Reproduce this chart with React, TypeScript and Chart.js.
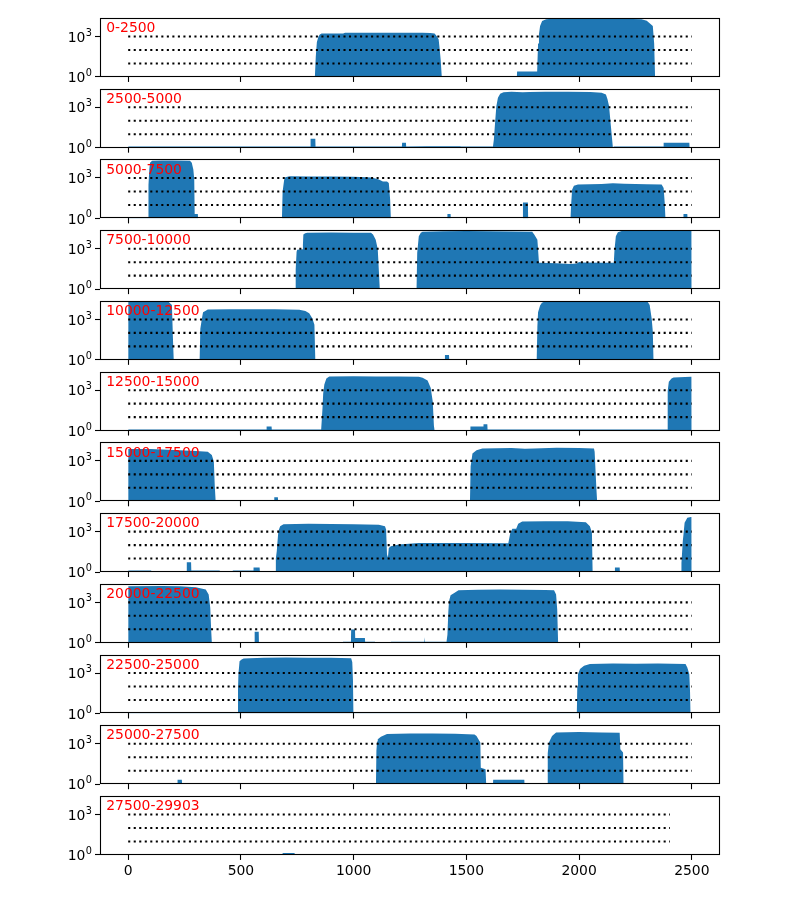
import React, { useEffect, useRef } from "react";
import { Chart, registerables } from "chart.js";

Chart.register(...registerables);
Chart.defaults.font.family = "'DejaVu Sans', sans-serif";

// ---------- data ----------
const RANGE_LABELS = [
  "0-2500", "2500-5000", "5000-7500", "7500-10000", "10000-12500", "12500-15000",
  "15000-17500", "17500-20000", "20000-22500", "22500-25000", "25000-27500", "27500-29903",
];
const X_TICKS = [0, 500, 1000, 1500, 2000, 2500];
const Y_TICKS = [1, 1000];
const Y_TICK_BASES = ["10", "10"];
const Y_TICK_EXPONENTS = ["0", "3"];
const REF_LEVELS = [10, 100, 1000];
const REF_END = [2500, 2500, 2500, 2500, 2500, 2500, 2500, 2500, 2500, 2500, 2500, 2403];

// coverage per panel: [position, depth]
const cov0 = [
  [0, 0], [828, 0], [832, 30], [837, 400], [844, 1000], [850, 1400], [858, 1650], [900, 1700], [953, 1650],
  [962, 1950], [1100, 1900], [1200, 1950], [1306, 1900], [1340, 1800], [1359, 1700], [1368, 1100], [1377, 630],
  [1382, 100], [1386, 20], [1391, 0], [1724, 0], [1725, 2.5], [1814, 2.5], [1818, 300], [1822, 1500],
  [1827, 6000], [1836, 14500], [1854, 19000], [1880, 20500], [2000, 20900], [2100, 20500], [2200, 20500],
  [2277, 19000], [2300, 15000], [2313, 9500], [2327, 6000], [2333, 300], [2337, 0], [2500, 0],
];
const cov1 = [
  [0, 1.2], [808, 1.2], [809, 4.6], [830, 4.6], [831, 1.2], [1214, 1.2], [1215, 2.3], [1232, 2.3], [1233, 1.2],
  [1324, 1.3], [1474, 1.3], [1475, 1.2], [1618, 1.2], [1622, 4], [1628, 100], [1633, 1175], [1640, 5000],
  [1650, 10000], [1665, 13000], [1700, 14000], [1750, 13000], [1780, 13500], [1850, 14000], [1950, 14000],
  [2050, 13500], [2100, 12000], [2119, 9000], [2126, 4000], [2133, 1175], [2141, 40], [2150, 0], [2154, 1.2],
  [2374, 1.2], [2375, 2.3], [2489, 2.3], [2490, 0], [2500, 0],
];
const cov2 = [
  [0, 1.2], [88, 1.2], [90, 300], [94, 5000], [97, 13400], [106, 19000], [150, 20000], [200, 19500],
  [274, 19000], [282, 13400], [289, 4300], [293, 800], [295, 2.1], [309, 2.1], [310, 0], [682, 0], [685, 100],
  [692, 760], [697, 1120], [715, 1350], [724, 1350], [800, 1300], [900, 1300], [1000, 1250], [1080, 1100],
  [1112, 760], [1130, 560], [1148, 560], [1156, 420], [1162, 24], [1165, 0], [1415, 0], [1416, 2.1],
  [1430, 2.1], [1431, 0], [1750, 0], [1751, 15], [1773, 15], [1774, 0], [1962, 0], [1965, 13], [1969, 135],
  [1977, 270], [1995, 330], [2100, 360], [2150, 400], [2200, 380], [2300, 350], [2366, 330], [2375, 180],
  [2380, 13], [2383, 0], [2462, 0], [2463, 2.1], [2480, 2.1], [2481, 0], [2500, 0],
];
const cov3 = [
  [0, 0], [740, 0], [743, 30], [747, 600], [750, 850], [773, 900], [775, 2000], [777, 11200], [785, 14000],
  [794, 15500], [900, 16000], [1000, 15500], [1077, 15000], [1086, 11200], [1098, 4700], [1107, 900],
  [1112, 20], [1116, 0], [1279, 0], [1282, 500], [1289, 8300], [1298, 15000], [1306, 18500], [1400, 20000],
  [1500, 20500], [1600, 20000], [1700, 19000], [1792, 18000], [1801, 11200], [1815, 4700], [1818, 900],
  [1822, 89], [1828, 89], [1900, 85], [1960, 72], [1990, 80], [2000, 105], [2013, 95], [2100, 90], [2154, 90],
  [2157, 800], [2163, 8300], [2172, 17000], [2189, 21000], [2300, 21300], [2499, 21300], [2499.5, 0],
];
const cov4 = [
  [0, 21000], [100, 21300], [180, 20000], [194, 12000], [199, 23], [202, 0], [317, 0], [320, 200], [327, 1200],
  [332, 3400], [344, 4500], [353, 5400], [450, 5700], [550, 5600], [650, 5600], [759, 5300], [786, 4300],
  [803, 2900], [817, 1200], [826, 400], [830, 0], [1404, 0], [1405, 2.3], [1423, 2.3], [1424, 0], [1812, 0],
  [1815, 300], [1818, 3400], [1827, 11000], [1835, 17000], [1845, 21000], [2000, 21300], [2200, 21300],
  [2304, 21000], [2313, 12000], [2322, 1200], [2327, 120], [2330, 0], [2500, 0],
];
const cov5 = [
  [0, 1.2], [613, 1.2], [614, 2], [636, 2], [637, 1.2], [856, 1.2], [862, 50], [865, 600], [870, 2600],
  [879, 7400], [892, 10500], [1000, 11000], [1100, 10500], [1200, 10500], [1289, 10000], [1306, 8300],
  [1328, 5200], [1342, 1450], [1351, 140], [1356, 2.4], [1359, 0], [1517, 0], [1518, 2], [1575, 2],
  [1576, 2.9], [1593, 2.9], [1594, 1.2], [2391, 1.2], [2393, 850], [2398, 4200], [2410, 7500], [2419, 8900],
  [2496, 10000], [2499, 10000], [2499.5, 0],
];
const cov6 = [
  [0, 7600], [100, 7800], [230, 6300], [300, 5500], [353, 4800], [371, 2700], [380, 850], [384, 15], [388, 0],
  [647, 0], [648, 2], [664, 2], [665, 0], [1516, 0], [1519, 400], [1522, 850], [1527, 3550], [1545, 6300],
  [1571, 8500], [1700, 9000], [1760, 8000], [1800, 8500], [1900, 9300], [2000, 9000], [2066, 8500],
  [2069, 4800], [2076, 15], [2080, 0], [2453, 0], [2454, 1.2], [2496, 1.2], [2497, 0], [2500, 0],
];
const cov7 = [
  [0, 1.3], [102, 1.3], [103, 0], [259, 0], [260, 5.3], [279, 5.3], [280, 1.3], [406, 1.3], [407, 0], [463, 0],
  [464, 1.3], [555, 1.3], [556, 2.2], [583, 2.2], [584, 1.2], [609, 1.2], [610, 0], [652, 0], [655, 10],
  [659, 35], [666, 1070], [674, 2500], [689, 3600], [800, 3800], [900, 3700], [1000, 3600], [1112, 3300],
  [1139, 2500], [1144, 1450], [1148, 20], [1152, 12], [1156, 62], [1165, 82], [1201, 110], [1289, 145],
  [1500, 140], [1686, 138], [1695, 810], [1704, 1600], [1721, 1600], [1730, 3800], [1748, 5600], [1850, 6000],
  [1950, 5800], [2030, 5000], [2048, 2500], [2057, 810], [2060, 0], [2158, 0], [2159, 2.2], [2180, 2.2],
  [2181, 0], [2453, 0], [2454, 4.7], [2460, 200], [2463, 600], [2468, 4500], [2480, 10700], [2496, 12000],
  [2499, 12000], [2499.5, 0],
];
const cov8 = [
  [0, 15800], [150, 16500], [230, 15800], [300, 13500], [344, 9100], [357, 3800], [364, 400], [368, 10],
  [371, 0], [560, 0], [561, 6.6], [579, 6.6], [580, 0], [952, 0], [953, 1.2], [988, 1.2], [989, 9.8],
  [1006, 9.8], [1007, 2.3], [1050, 2.3], [1051, 1.2], [1095, 1.2], [1096, 0], [1164, 0], [1165, 1.2],
  [1312, 1.2], [1313, 2.6], [1315, 1.2], [1412, 1.2], [1416, 4], [1420, 200], [1423, 1200], [1430, 3400],
  [1448, 5100], [1465, 8000], [1550, 8500], [1650, 8900], [1750, 8700], [1850, 8300], [1889, 7900],
  [1898, 3800], [1903, 300], [1907, 0], [2500, 0],
];
const cov9 = [
  [0, 1.2], [486, 1.2], [487, 50], [489, 810], [494, 7400], [503, 10000], [512, 12000], [600, 14000],
  [700, 14500], [800, 14000], [900, 13500], [989, 12500], [994, 6300], [997, 300], [999, 0], [1000, 1.2],
  [1990, 1.2], [1992, 100], [1995, 810], [2004, 2000], [2022, 3500], [2048, 4800], [2150, 5200], [2250, 5000],
  [2350, 5200], [2472, 4700], [2480, 2600], [2489, 810], [2492, 50], [2494, 0], [2500, 0],
];
const cov10 = [
  [0, 0], [218, 0], [219, 2.1], [238, 2.1], [239, 0], [1099, 0], [1101, 300], [1104, 1500], [1107, 2200],
  [1121, 3400], [1148, 5400], [1250, 5800], [1350, 5700], [1450, 5600], [1536, 5000], [1545, 3800],
  [1562, 1230], [1564, 17], [1585, 13], [1588, 1], [1589, 0], [1618, 0], [1619, 2.1], [1757, 2.1], [1758, 0],
  [1858, 0], [1861, 200], [1866, 1230], [1880, 3800], [1898, 6800], [2000, 7500], [2100, 7000], [2180, 6500],
  [2183, 400], [2195, 230], [2197, 0], [2500, 0],
];
const cov11 = [
  [0, 0], [684, 0], [685, 1.4], [738, 1.4], [739, 0], [2403, 0],
];
const COVERAGE = [cov0, cov1, cov2, cov3, cov4, cov5, cov6, cov7, cov8, cov9, cov10, cov11];

// ---------- layout ----------
const FIG_TOP = 18;
const PANEL_STEP = 70.727;
const AXES_H = 58.94;
const AX_LEFT = 100;
const AX_RIGHT = 720;
const X_MIN = -125;
const X_MAX = 2625;
const Y_MIN = 1;
const Y_MAX = 23770;
const FONT = { family: "'DejaVu Sans', sans-serif", size: 13.9 };

function Panel({ index }: { index: number }) {
  const ref = useRef<HTMLCanvasElement>(null);
  const isLast = index === COVERAGE.length - 1;
  const top = FIG_TOP + index * PANEL_STEP;
  const canvasTop = Math.floor(top) - 14;
  const padTop = top - canvasTop;
  const bottomSpace = isLast ? 40 : 14;
  const height = Math.ceil(padTop + AXES_H + bottomSpace);
  const xAxisH = height - padTop - AXES_H;

  useEffect(() => {
    if (!ref.current) return;
    const label = RANGE_LABELS[index];
    const framePlugin = {
      id: "frame" + index,
      afterDraw(chart: any) {
        const { ctx, chartArea } = chart;
        const yScale = chart.scales.y;
        const l = Math.round(chartArea.left) + 0.5;
        const t = Math.round(chartArea.top) + 0.5;
        const r = Math.round(chartArea.right) - 0.5;
        const b = Math.round(chartArea.bottom) - 0.5;
        ctx.save();
        // panel label
        ctx.fillStyle = "red";
        ctx.font = "13.9px 'DejaVu Sans', sans-serif";
        ctx.textBaseline = "alphabetic";
        ctx.textAlign = "left";
        ctx.fillText(label, chartArea.left + 6.2, chartArea.top + 14.2);
        // y tick labels (10 with superscript exponent)
        ctx.fillStyle = "#000";
        const rightEdge = chartArea.left - 5 - 3.5;
        Y_TICKS.forEach((v, i) => {
          const py = yScale.getPixelForValue(v);
          ctx.font = "9.7px 'DejaVu Sans', sans-serif";
          const expW = ctx.measureText(Y_TICK_EXPONENTS[i]).width;
          ctx.font = "13.9px 'DejaVu Sans', sans-serif";
          const baseW = ctx.measureText(Y_TICK_BASES[i]).width;
          const x0 = rightEdge - expW - baseW;
          ctx.fillText(Y_TICK_BASES[i], x0, py + 5.2);
          ctx.font = "9.7px 'DejaVu Sans', sans-serif";
          ctx.fillText(Y_TICK_EXPONENTS[i], x0 + baseW + 0.3, py - 0.9);
        });
        // frame
        ctx.strokeStyle = "#000";
        ctx.lineWidth = 1.1;
        ctx.strokeRect(l, t, r - l, b - t);
        ctx.restore();
      },
    };
    const datasets: any[] = [
      {
        data: COVERAGE[index].map(([x, y]) => ({ x, y: y > 0 ? y : Y_MIN })),
        fill: "start",
        backgroundColor: "#1f77b4",
        borderColor: "rgba(0,0,0,0)",
        borderWidth: 0,
        pointRadius: 0,
        tension: 0,
        order: 1,
      },
      ...REF_LEVELS.map((lvl) => ({
        data: [
          { x: 0, y: lvl },
          { x: REF_END[index], y: lvl },
        ],
        fill: false,
        borderColor: "#000",
        borderWidth: 2.08,
        borderDash: [2.08, 3.44],
        borderCapStyle: "butt",
        pointRadius: 0,
        order: 0,
      })),
    ];
    const gridOpts = {
      display: true,
      drawOnChartArea: false,
      drawTicks: true,
      tickLength: 5,
      tickWidth: 1.1,
      tickColor: "#000",
    };
    const chart = new Chart(ref.current, {
      type: "line",
      data: { datasets },
      options: {
        animation: false,
        responsive: false,
        maintainAspectRatio: false,
        events: [],
        layout: { padding: { left: 0, right: 800 - AX_RIGHT, top: padTop, bottom: 0 } },
        plugins: {
          legend: { display: false },
          tooltip: { enabled: false },
        },
        scales: {
          x: {
            type: "linear",
            min: X_MIN,
            max: X_MAX,
            afterBuildTicks: (s: any) => {
              s.ticks = X_TICKS.map((v) => ({ value: v }));
            },
            afterFit: (s: any) => {
              s.height = xAxisH;
            },
            ticks: {
              display: isLast,
              font: FONT,
              color: "#000",
              padding: 3.5,
              maxRotation: 0,
              autoSkip: false,
              callback: (v: any) => String(v),
            },
            grid: gridOpts,
            border: { display: false },
          },
          y: {
            type: "logarithmic",
            min: Y_MIN,
            max: Y_MAX,
            afterBuildTicks: (s: any) => {
              s.ticks = Y_TICKS.map((v) => ({ value: v }));
            },
            afterFit: (s: any) => {
              s.width = AX_LEFT;
            },
            ticks: {
              display: false,
            },
            grid: gridOpts,
            border: { display: false },
          },
        },
      } as any,
      plugins: [framePlugin],
    });
    return () => chart.destroy();
  }, [index]);

  return (
    <canvas
      ref={ref}
      width={800}
      height={height}
      style={{ position: "absolute", left: 0, top: canvasTop, width: 800, height }}
    />
  );
}

export default function App() {
  return (
    <div style={{ position: "absolute", left: 0, top: 0, width: 800, height: 900, background: "#fff" }}>
      {RANGE_LABELS.map((_, i) => (
        <Panel key={i} index={i} />
      ))}
    </div>
  );
}
